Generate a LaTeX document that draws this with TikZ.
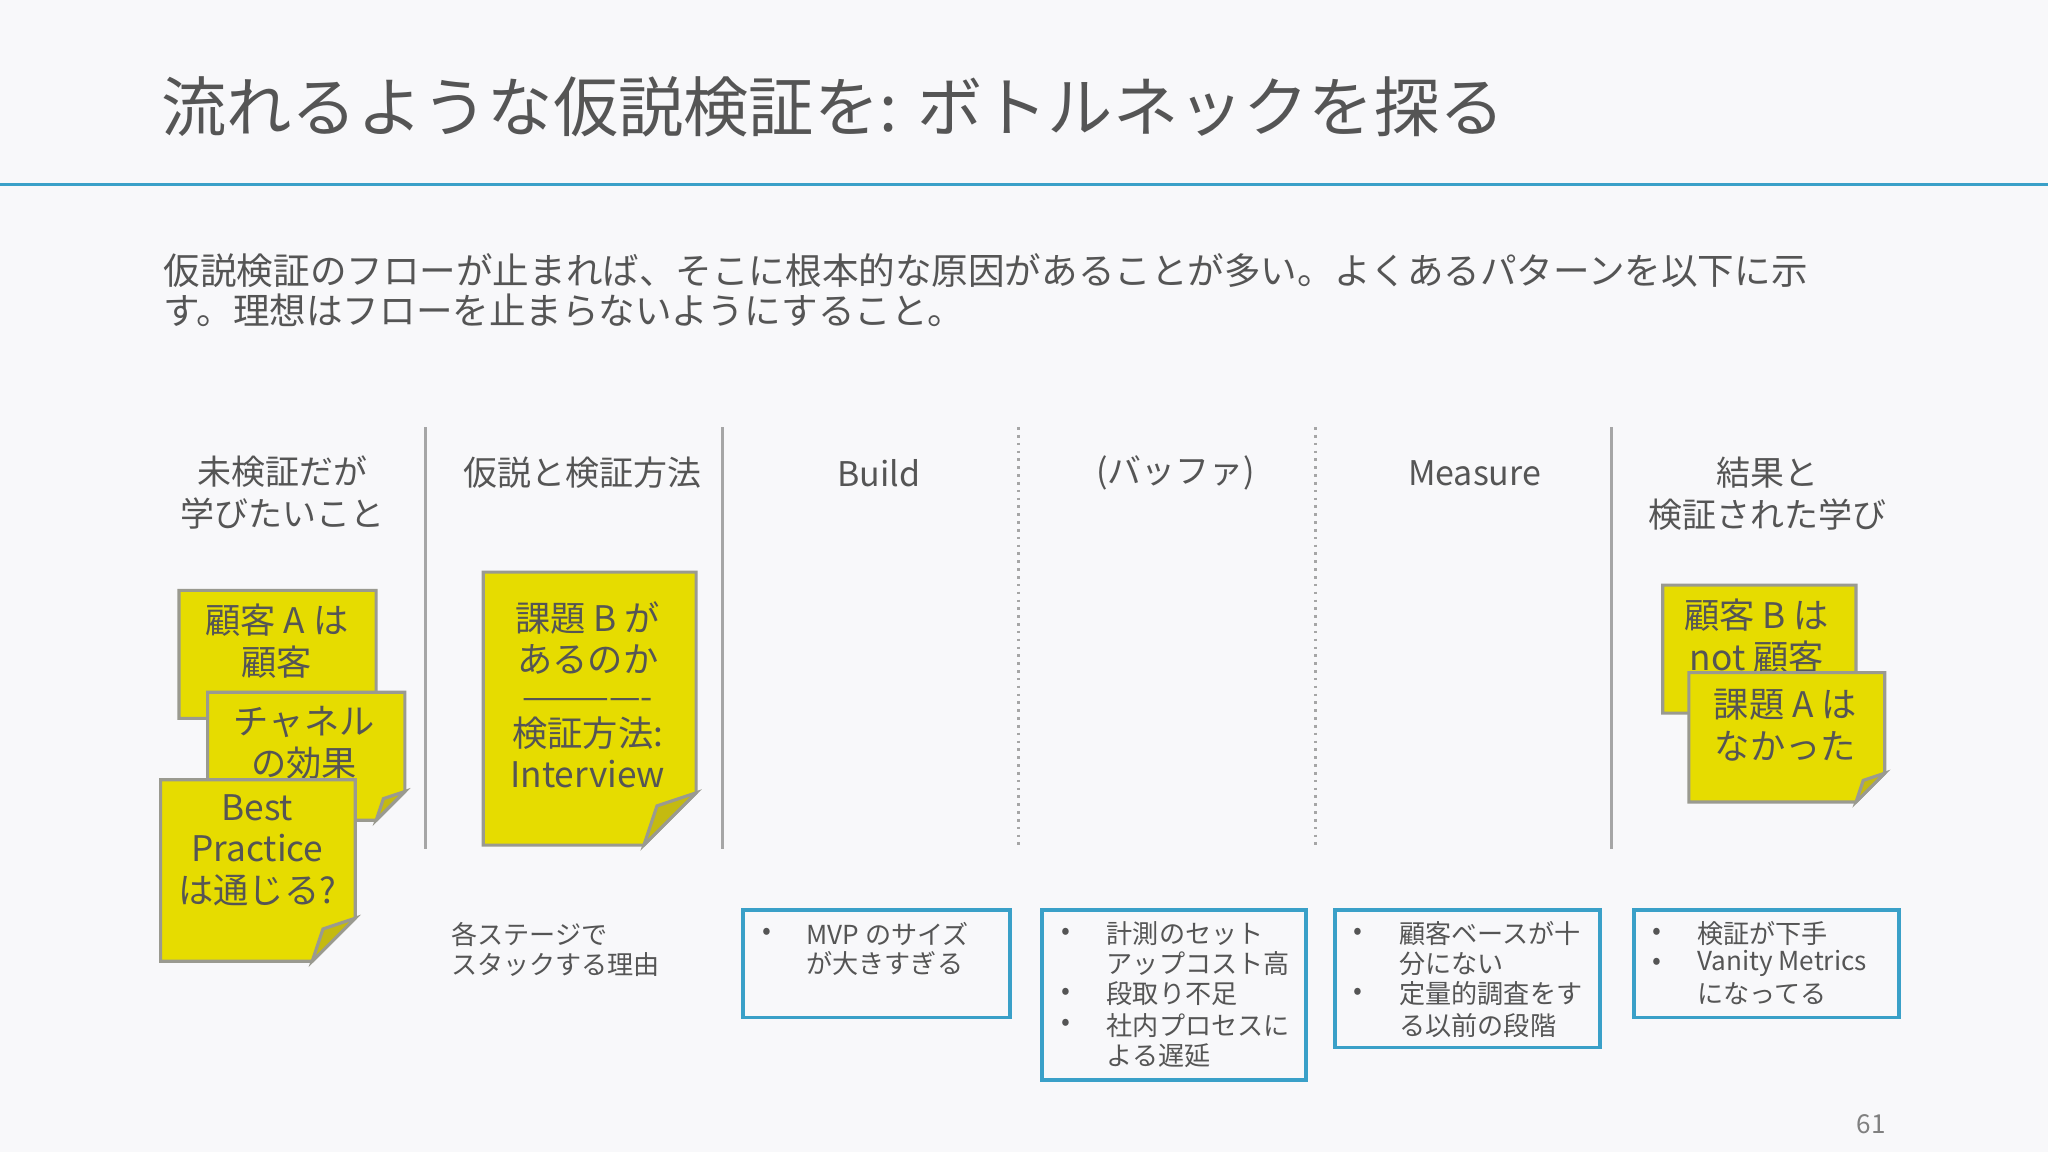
\documentclass[tikz,border=0pt]{standalone}
\usepackage{fontspec}
\setmainfont{Noto Sans CJK JP}[Scale=1]
\definecolor{bg}{HTML}{F8F8FA}
\definecolor{tx}{HTML}{555555}
\definecolor{bl}{HTML}{3AA0C8}
\definecolor{yel}{HTML}{E6DC00}
\definecolor{fold}{HTML}{C4BA10}
\definecolor{sb}{HTML}{9A9A90}
\newcommand{\stk}[5]{%
 \fill[yel,draw=sb,line width=1.2] (#1,#2) -- (#3,#2) -- (#3,#4-#5) -- (#3-#5,#4) -- (#1,#4) -- cycle;
 \fill[fold,draw=sb,line width=1.2] (#3,#4-#5) -- (#3-#5*0.75,#4-#5*0.75) -- (#3-#5,#4) -- cycle;}
\begin{document}
\begin{tikzpicture}[x=0.5pt,y=-0.5pt,
  every node/.style={text=tx,inner sep=0},
  hd/.style={font=\fontsize{13}{16}\selectfont,align=center},
  st/.style={font=\fontsize{13.5}{16}\selectfont,align=center},
  li/.style={font=\fontsize{10}{11.5}\selectfont,anchor=west},
  bx/.style={draw=bl,line width=1.5}]
\fill[bg] (0,0) rectangle (1568,882);
\useasboundingbox (0,0) rectangle (1568,882);
\node[anchor=west,font=\fontsize{25}{30}\selectfont] (title) at (123,82) {流れるような仮説検証を: ボトルネックを探る};
\draw[bl,line width=1.2] (0,141) -- (1568,141);
\node[anchor=north west,align=left,font=\fontsize{14}{15}\selectfont] (para) at (125,194) {仮説検証のフローが止まれば、そこに根本的な原因があることが多い。よくあるパターンを以下に示\\す。理想はフローを止まらないようにすること。};
\draw[gray!70,line width=1] (326,327) -- (326,650) (553,327) -- (553,650) (1234,327) -- (1234,650);
\draw[gray!70,line width=1,dotted] (780,327) -- (780,650) (1007,327) -- (1007,650);
\node[hd] (h1) at (216,377) {未検証だが\\学びたいこと};
\node[hd] (h2) at (446,362) {仮説と検証方法};
\node[hd] (h3) at (673,362) {Build};
\node[hd] (h4) at (900,362) {(バッファ)};
\node[hd] (h5) at (1129,362) {Measure};
\node[hd] (h6) at (1353,378) {結果と\\検証された学び};
\stk{137}{452}{288}{550}{18}
\node[st] (s1) at (212,491) {顧客 A は\\顧客};
\stk{159}{530}{310}{628}{22}
\node[st] (s2) at (233,569) {チャネル\\の効果};
\stk{123}{597}{272}{736}{33}
\node[st] (s3) at (197,651) {Best\\Practice\\は通じる?};
\stk{370}{438}{533}{647}{40}
\node[st] (s4) at (450,532) {課題 B が\\あるのか\\[-2pt]-------------\\[-2pt]検証方法:\\Interview};
\stk{1273}{448}{1421}{546}{18}
\node[st] (s5) at (1345,487) {顧客 B は\\not 顧客};
\stk{1293}{515}{1443}{614}{22}
\node[st] (s6) at (1367,555) {課題 A は\\なかった};
\node[anchor=north west,align=left,font=\fontsize{10}{11.5}\selectfont] (note) at (345,706) {各ステージで\\スタックする理由};
\draw[bx] (569,697) rectangle (773,779);
\draw[bx] (798,697) rectangle (1000,827);
\draw[bx] (1022,697) rectangle (1225,802);
\draw[bx] (1251,697) rectangle (1454,779);
\foreach \x/\y in {583/715,812/715,812/761,812/785,1036/715,1036/761,1265/715,1265/738}
  \node[li] at (\x,\y) {•};
\node[li] (a1) at (617,715) {MVP のサイズ};
\node[li] (a2) at (617,738) {が大きすぎる};
\node[li] (b1) at (847,715) {計測のセット};
\node[li] (b2) at (847,738) {アップコスト高};
\node[li] (b3) at (847,761) {段取り不足};
\node[li] (b4) at (847,785) {社内プロセスに};
\node[li] (b5) at (847,808) {よる遅延};
\node[li] (c1) at (1071,715) {顧客ベースが十};
\node[li] (c2) at (1071,738) {分にない};
\node[li] (c3) at (1071,761) {定量的調査をす};
\node[li] (c4) at (1071,785) {る以前の段階};
\node[li] (d1) at (1299,715) {検証が下手};
\node[li] (d2) at (1299,738) {Vanity Metrics};
\node[li] (d3) at (1299,761) {になってる};
\node[anchor=west,font=\fontsize{10}{12}\selectfont,text=gray] (pg) at (1421,861) {61};
\end{tikzpicture}
\end{document}
